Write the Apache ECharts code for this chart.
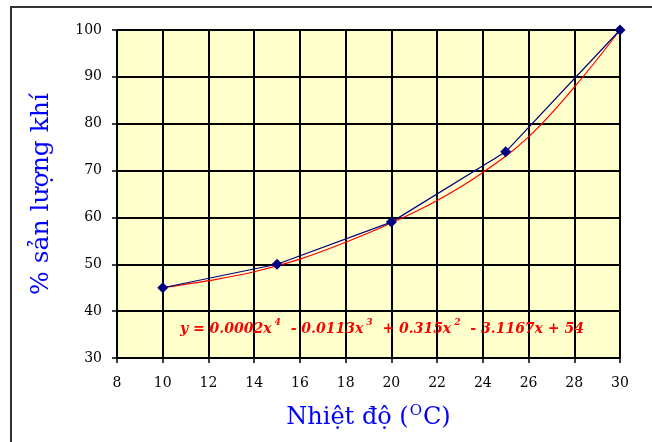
<!DOCTYPE html>
<html><head><meta charset="utf-8">
<script src="https://cdn.jsdelivr.net/npm/echarts@6/dist/echarts.min.js"></script>
<style>html,body{margin:0;padding:0;background:#fff}#c{width:652px;height:442px}</style>
</head><body><div id="c"></div>
<script>
const temps = [10, 15, 20, 25, 30];
const yields = [45, 50, 59, 74, 100];
const trendX = [10, 12, 14, 16, 18, 20, 22, 24, 26, 28, 30];
const trendY = [45, 46.5, 48.4, 51.1, 54.7, 58.8, 63.6, 69.6, 77.2, 87.8, 100];
const eqParts = [['y = 0.0002x', '4'], [' - 0.0113x', '3'], [' + 0.315x', '2'], [' - 3.1167x + 54', '']];
const xTicks = {min: 8, max: 30, interval: 2};
const yTicks = {min: 30, max: 100, interval: 10};

const chart = echarts.init(document.getElementById('c'));
const serif = '"DejaVu Serif", "Liberation Serif", serif';
const eqText = eqParts.map(p => '{m|' + p[0] + '}' + (p[1] ? '{s|' + p[1] + '}' : '')).join('');
chart.setOption({
  animation: false,
  backgroundColor: '#fff',
  grid: {left: 117, top: 30, right: 32, bottom: 84, show: true, backgroundColor: '#FFFFCC', borderColor: '#999', borderWidth: 1},
  xAxis: {
    type: 'value', min: xTicks.min, max: xTicks.max, interval: xTicks.interval,
    axisLine: {show: true, onZero: false, lineStyle: {color: '#000', width: 1.5}},
    axisTick: {show: true, length: 5, lineStyle: {color: '#000', width: 1.5}},
    axisLabel: {color: '#000', fontFamily: serif, fontSize: 14, margin: 18},
    splitLine: {show: true, lineStyle: {color: '#000', width: 2}},
    name: '{a|Nhiệt độ (}{s|O}{a|C)}', nameLocation: 'middle', nameGap: 46,
    nameTextStyle: {rich: {
      a: {fontFamily: serif, fontSize: 24, color: '#0000FF'},
      s: {fontFamily: serif, fontSize: 15, color: '#0000FF', verticalAlign: 'top', padding: [0, 1, 12, 1]}
    }}
  },
  yAxis: {
    type: 'value', min: yTicks.min, max: yTicks.max, interval: yTicks.interval,
    axisLine: {show: true, onZero: false, lineStyle: {color: '#000', width: 1.5}},
    axisTick: {show: true, length: 5, lineStyle: {color: '#000', width: 1.5}},
    axisLabel: {color: '#000', fontFamily: serif, fontSize: 14, margin: 15},
    splitLine: {show: true, lineStyle: {color: '#000', width: 2}},
    name: '% sản lượng khí', nameLocation: 'middle', nameGap: 63,
    nameTextStyle: {fontFamily: serif, fontSize: 25, color: '#0000FF'}
  },
  graphic: [
    {type: 'rect', shape: {x: 11, y: 7, width: 800, height: 600}, style: {fill: 'none', stroke: '#333', lineWidth: 2}, silent: true},
    {type: 'text', x: 180, y: 316, z: 100, style: {text: eqText, rich: {
      m: {fill: '#FF0000', font: 'italic bold 14px ' + serif, padding: [6, 0, 0, 0]},
      s: {fill: '#FF0000', font: 'italic bold 9px ' + serif, padding: [0, 5, 6, 3]}
    }}}
  ],
  series: [
    {type: 'line', data: temps.map((t, i) => [t, yields[i]]), symbol: 'diamond', symbolSize: 11,
     lineStyle: {color: '#000080', width: 1.2}, itemStyle: {color: '#000080'}, z: 3},
    {type: 'line', data: trendX.map((t, i) => [t, trendY[i]]), smooth: 0.4, symbol: 'none',
     lineStyle: {color: '#FF0000', width: 1.2}, z: 2}
  ]
});
</script></body></html>
